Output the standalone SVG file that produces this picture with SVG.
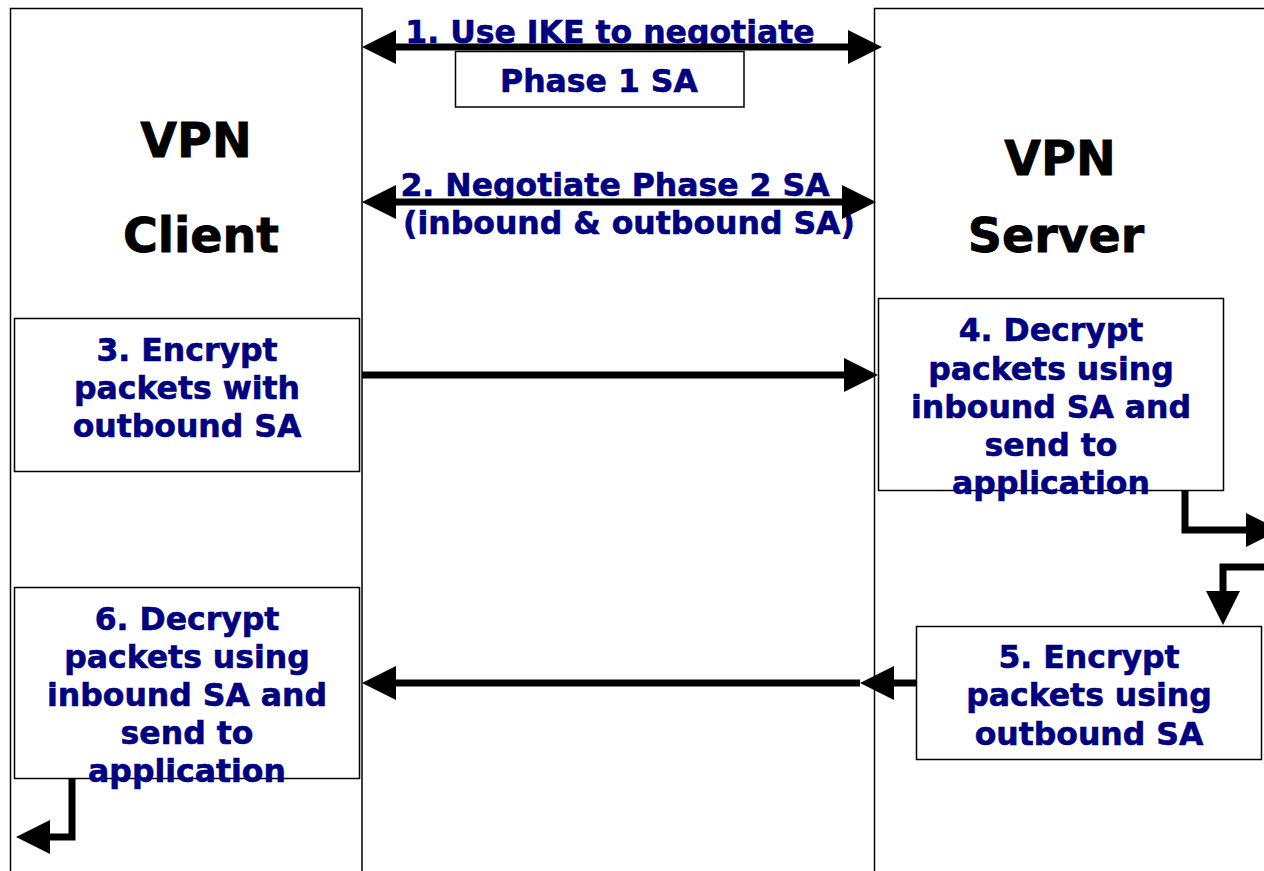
<svg xmlns="http://www.w3.org/2000/svg" width="1264" height="871" viewBox="0 0 1264 871">
  <style>
    .col { fill: #ffffff; stroke: #000000; stroke-width: 1.5; }
    .box { fill: #ffffff; stroke: #000000; stroke-width: 1.5; }
    .title { font-family: "DejaVu Sans", Verdana, sans-serif; font-weight: bold; font-size: 47.5px; fill: #000000; stroke: #000000; stroke-width: 0.8; text-anchor: middle; }
    .lbl { font-family: "DejaVu Sans", Verdana, sans-serif; font-weight: bold; font-size: 31.5px; fill: #000080; stroke: #000080; stroke-width: 0.6; text-anchor: middle; }
    .wire { fill: none; stroke: #000000; stroke-width: 7; }
  </style>
  <defs>
    <marker id="head" markerUnits="userSpaceOnUse" markerWidth="35" markerHeight="35" refX="0" refY="17" orient="auto-start-reverse" overflow="visible">
      <path d="M0,0 L34,17 L0,34 z" fill="#000000"/>
    </marker>
  </defs>

  <!-- endpoint columns -->
  <g id="client">
    <rect class="col" x="10.5" y="8.5" width="351.5" height="880"/>
    <text class="title" x="196" y="157">VPN</text>
    <text class="title" x="201" y="252">Client</text>
  </g>
  <g id="server">
    <rect class="col" x="874.5" y="8.5" width="420" height="880"/>
    <text class="title" x="1060" y="175">VPN</text>
    <text class="title" x="1056" y="252">Server</text>
  </g>

  <!-- step boxes -->
  <g id="step1">
    <rect class="box" x="455.5" y="51.5" width="288.5" height="55.5"/>
    <text class="lbl" x="610" y="43">1. Use IKE to negotiate</text>
    <text class="lbl" x="599" y="92">Phase 1 SA</text>
  </g>
  <g id="step2">
    <text class="lbl" x="615" y="196">2. Negotiate Phase 2 SA</text>
    <text class="lbl" x="629" y="234">(inbound &amp; outbound SA)</text>
  </g>
  <g id="step3">
    <rect class="box" x="14.5" y="318.5" width="345" height="153"/>
    <text class="lbl" x="187" y="361">3. Encrypt</text>
    <text class="lbl" x="187" y="399">packets with</text>
    <text class="lbl" x="187" y="437">outbound SA</text>
  </g>
  <g id="step4">
    <rect class="box" x="878.5" y="298.5" width="345" height="192"/>
    <text class="lbl" x="1051" y="341">4. Decrypt</text>
    <text class="lbl" x="1051" y="380">packets using</text>
    <text class="lbl" x="1051" y="418">inbound SA and</text>
    <text class="lbl" x="1051" y="456">send to</text>
    <text class="lbl" x="1051" y="494">application</text>
  </g>
  <g id="step5">
    <rect class="box" x="916.5" y="626.5" width="345" height="133"/>
    <text class="lbl" x="1089" y="668">5. Encrypt</text>
    <text class="lbl" x="1089" y="706">packets using</text>
    <text class="lbl" x="1089" y="745">outbound SA</text>
  </g>
  <g id="step6">
    <rect class="box" x="14.5" y="587.5" width="345" height="191"/>
    <text class="lbl" x="187" y="630">6. Decrypt</text>
    <text class="lbl" x="187" y="668">packets using</text>
    <text class="lbl" x="187" y="706">inbound SA and</text>
    <text class="lbl" x="187" y="744">send to</text>
    <text class="lbl" x="187" y="782">application</text>
  </g>

  <!-- connectors -->
  <g id="connectors">
    <line class="wire" x1="396" y1="47" x2="848" y2="47" marker-start="url(#head)" marker-end="url(#head)"/>
    <line class="wire" x1="396" y1="202" x2="842" y2="202" marker-start="url(#head)" marker-end="url(#head)"/>
    <line class="wire" x1="362" y1="375" x2="844" y2="375" marker-end="url(#head)"/>
    <line class="wire" x1="916" y1="683" x2="894" y2="683" marker-end="url(#head)"/>
    <line class="wire" x1="860" y1="683" x2="396" y2="683" marker-end="url(#head)"/>
    <polyline class="wire" points="1185,491 1185,530 1246,530" marker-end="url(#head)"/>
    <polyline class="wire" points="1264,567 1223,567 1223,591" marker-end="url(#head)"/>
    <polyline class="wire" points="72,779 72,837 50,837" marker-end="url(#head)"/>
  </g>
</svg>
